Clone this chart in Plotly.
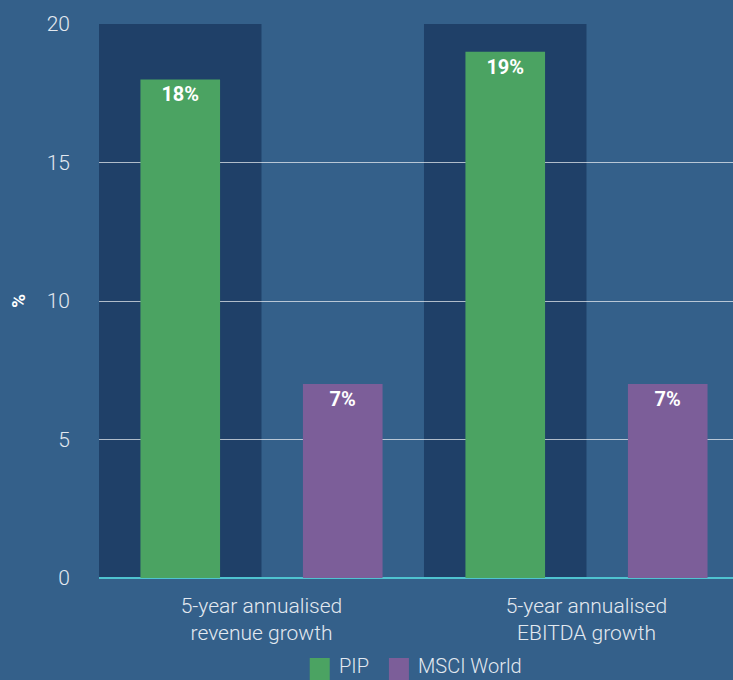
import plotly.graph_objects as go

# Growth comparison data (%)
categories = ["5-year annualised<br>revenue growth", "5-year annualised<br>EBITDA growth"]
series_names = ["PIP", "MSCI World"]
pip_values = [18, 19]
msci_values = [7, 7]
y_ticks = [0, 5, 10, 15, 20]

BG = "#34608a"
BAND = "#1f4068"
GREEN = "#4ba362"
PURPLE = "#7c5e99"
TEXT = "#e3e9f0"
FONT = "Roboto"

fig = go.Figure()

for name, vals, color in [(series_names[0], pip_values, GREEN),
                          (series_names[1], msci_values, PURPLE)]:
    fig.add_trace(go.Bar(
        x=categories, y=vals, name=name,
        marker=dict(color=color, line=dict(width=0)),
        text=[f"<b>{v}%</b>" for v in vals],
        textposition="inside", insidetextanchor="end",
        textfont=dict(family=FONT, size=20, color="white"),
        showlegend=False,
    ))

# Dark bands behind the PIP half of each category
shapes = []
for i, _ in enumerate(categories):
    shapes.append(dict(type="rect", xref="x", yref="y", x0=i - 0.5, x1=i,
                       y0=0, y1=y_ticks[-1], fillcolor=BAND,
                       line=dict(width=0), layer="below"))

# Legend drawn below the axis with large square swatches
annotations = []
legend_items = [(series_names[0], GREEN, 0.3324), (series_names[1], PURPLE, 0.4573)]
sw = 20 / 634
for name, color, x0 in legend_items:
    shapes.append(dict(type="rect", xref="paper", yref="paper",
                       x0=x0, x1=x0 + sw, y0=-0.19, y1=-0.1444,
                       fillcolor=color, line=dict(width=0)))
    annotations.append(dict(xref="paper", yref="paper", x=x0 + sw + 7 / 634,
                            y=-0.1841, xanchor="left", yanchor="bottom",
                            text=name, showarrow=False,
                            font=dict(family=FONT, size=20, color=TEXT, weight=300)))

fig.update_layout(
    width=733, height=680,
    margin=dict(l=99, r=0, t=24, b=102),
    paper_bgcolor=BG, plot_bgcolor=BG,
    barmode="group", bargap=0, bargroupgap=0.51,
    shapes=shapes, annotations=annotations,
    font=dict(family=FONT, color=TEXT),
    xaxis=dict(range=[-0.5, 1.4508], showgrid=False, showline=False,
               ticks="", ticklabelstandoff=13,
               tickfont=dict(family=FONT, size=21, color=TEXT, weight=300)),
    yaxis=dict(range=[0, 20], tickvals=y_ticks, showgrid=True,
               gridcolor="rgba(255,255,255,0.65)", gridwidth=1,
               zeroline=True, zerolinecolor="#4fc3d0", zerolinewidth=2,
               showline=False, ticks="", ticklabelstandoff=28,
               tickfont=dict(family=FONT, size=21, color=TEXT, weight=300),
               title=dict(text="<b>%</b>", standoff=16,
                          font=dict(family=FONT, size=19, color="white"))),
)

fig.write_html("out.html")
